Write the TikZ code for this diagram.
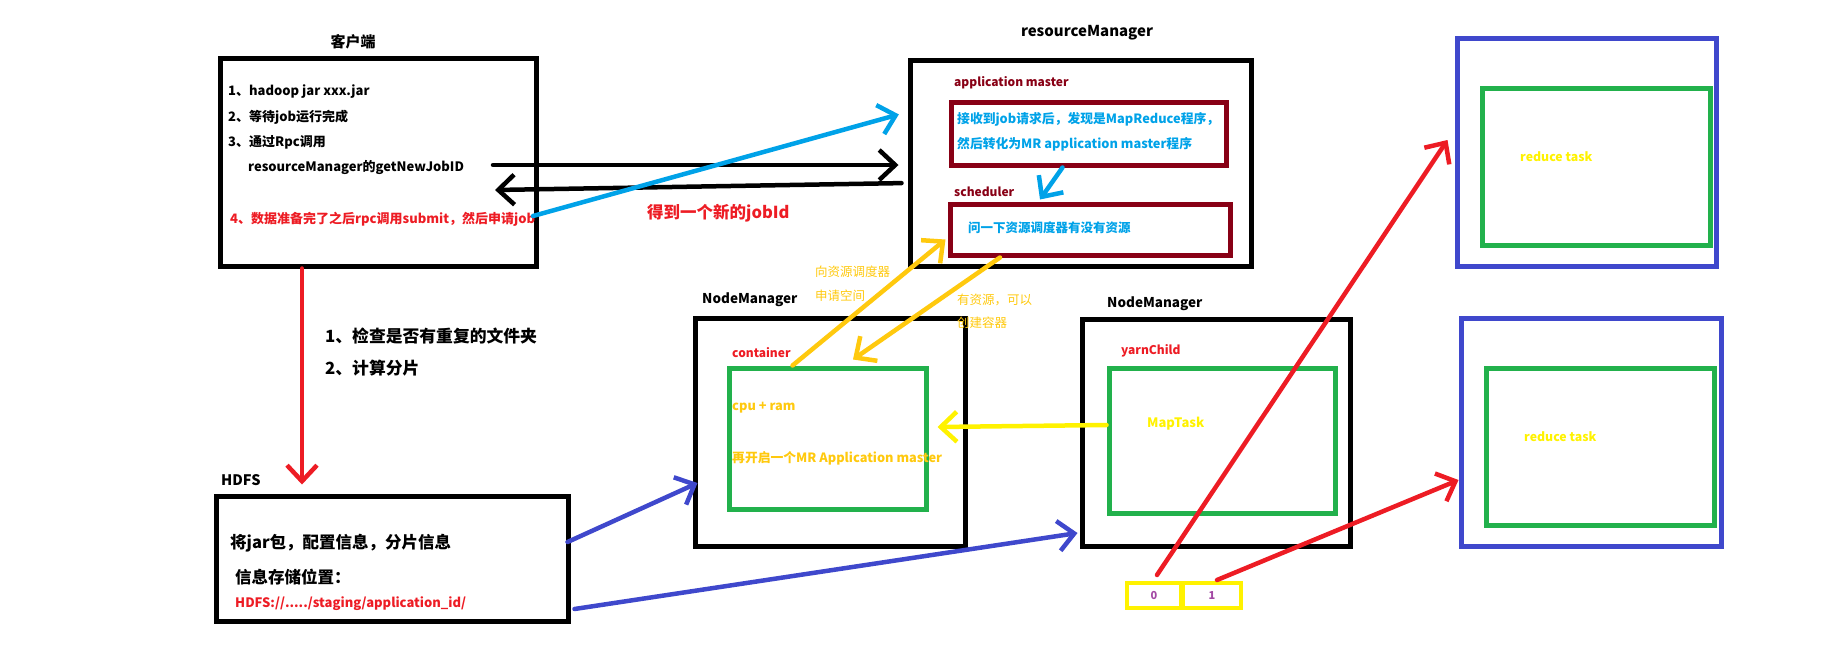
\documentclass[tikz,border=0pt]{standalone}
\usepackage{fontspec}
\setmainfont{Noto Sans CJK SC}
\usetikzlibrary{arrows.meta}
\definecolor{pred}{RGB}{237,28,36}
\definecolor{pdarkred}{RGB}{136,0,21}
\definecolor{pblue}{RGB}{0,162,232}
\definecolor{pgold}{RGB}{255,201,14}
\definecolor{pyellow}{RGB}{255,242,0}
\definecolor{pgreen}{RGB}{34,177,76}
\definecolor{pindigo}{RGB}{63,72,204}
\definecolor{ppurple}{RGB}{163,73,164}

\begin{document}
\begin{tikzpicture}[x=1pt, y=-1pt,
	frame/.style={draw=black, line width=5pt, inner sep=0pt},
	redframe/.style={draw=pdarkred, line width=5pt, inner sep=0pt},
	greenframe/.style={draw=pgreen, line width=5pt, inner sep=0pt},
	blueframe/.style={draw=pindigo, line width=5pt, inner sep=0pt},
	slotbox/.style={draw=pyellow, line width=4pt, inner sep=0pt, text=ppurple, font=\bfseries\fontsize{11}{13}\selectfont},
	txt/.style={anchor=west, inner sep=0pt, font=\bfseries\fontsize{13}{15}\selectfont},
	thin txt/.style={anchor=west, inner sep=0pt, font=\fontsize{12.5}{15}\selectfont},
	title/.style={inner sep=0pt, font=\bfseries\fontsize{15}{17}\selectfont},
	pen/.style={line width=4.5pt, line cap=round, -{Straight Barb[length=16pt, width=30pt]}}]

	\useasboundingbox (0,0) rectangle (1843,648);

	% client
	\node[title] (clienttitle) at (353,42) {客户端};
	\node[frame, minimum width=316pt, minimum height=208pt] (client) at (378,162) {};
	\node[txt] (c1) at (228,92) {1、hadoop jar xxx.jar};
	\node[txt] (c2) at (228,117) {2、等待job运行完成};
	\node[txt] (c3) at (228,142) {3、通过Rpc调用};
	\node[txt] (c3b) at (248,167) {resourceManager的getNewJobID};
	\node[txt, text=pred] (c4) at (230,219) {4、数据准备完了之后rpc调用submit，然后申请job};

	% resourceManager
	\node[title] (rmtitle) at (1087,33) {resourceManager};
	\node[frame, minimum width=341pt, minimum height=206pt] (rm) at (1080.5,163) {};
	\node[txt, text=pdarkred, font=\bfseries\fontsize{12}{14}\selectfont] (amlabel) at (954,83) {application master};
	\node[redframe, minimum width=275pt, minimum height=63pt] (am) at (1088.5,133.5) {};
	\node[txt, text=pblue, font=\bfseries\fontsize{12.8}{15}\selectfont] (am1) at (957,119) {接收到job请求后，发现是MapReduce程序，};
	\node[txt, text=pblue, font=\bfseries\fontsize{12.8}{15}\selectfont] (am2) at (957,144) {然后转化为MR application master程序};
	\node[txt, text=pdarkred, font=\bfseries\fontsize{12}{14}\selectfont] (schedlabel) at (954,192) {scheduler};
	\node[redframe, minimum width=280pt, minimum height=51pt] (sched) at (1090,229.5) {};
	\node[txt, text=pblue, font=\bfseries\fontsize{12.5}{15}\selectfont] (sched1) at (968,228) {问一下资源调度器有没有资源};

	\node[txt, text=pred, font=\bfseries\fontsize{16.5}{18}\selectfont] (newid) at (647,213) {得到一个新的jobId};

	% NodeManager 1
	\node[txt, font=\bfseries\fontsize{13.5}{16}\selectfont] (nm1title) at (702,300) {NodeManager};
	\node[frame, minimum width=270pt, minimum height=228pt] (nm1) at (830,432) {};
	\node[txt, text=pred, font=\bfseries\fontsize{12}{14}\selectfont] (contlabel) at (732,353) {container};
	\node[greenframe, minimum width=197pt, minimum height=141pt] (cont) at (827.5,438.5) {};
	\node[txt, text=pgold, font=\bfseries\fontsize{12.8}{15}\selectfont] (cpu) at (732,408) {cpu + ram};
	\node[txt, text=pgold, font=\bfseries\fontsize{12.8}{15}\selectfont] (mram) at (732,458) {再开启一个MR Application master};

	% NodeManager 2
	\node[txt, font=\bfseries\fontsize{13.5}{16}\selectfont] (nm2title) at (1107,304) {NodeManager};
	\node[frame, minimum width=268pt, minimum height=227pt] (nm2) at (1216,432.5) {};
	\node[txt, text=pred, font=\bfseries\fontsize{12}{14}\selectfont] (yclabel) at (1121,351) {yarnChild};
	\node[greenframe, minimum width=226pt, minimum height=145pt] (yc) at (1222,440.5) {};
	\node[txt, text=pyellow] (maptask) at (1147,424) {MapTask};

	% HDFS
	\node[txt, font=\bfseries\fontsize{14.5}{17}\selectfont] (hdfstitle) at (221,480) {HDFS};
	\node[frame, minimum width=352pt, minimum height=125pt] (hdfs) at (392,558.5) {};
	\node[txt, font=\bfseries\fontsize{16.5}{18}\selectfont] (h1) at (230,543) {将jar包，配置信息，分片信息};
	\node[txt, font=\bfseries\fontsize{16.5}{18}\selectfont] (h2) at (235,577) {信息存储位置：};
	\node[txt, text=pred] (h3) at (235,604) {HDFS://...../staging/application\_id/};

	\node[txt, font=\bfseries\fontsize{16.8}{19}\selectfont] (chk1) at (325,336) {1、检查是否有重复的文件夹};
	\node[txt, font=\bfseries\fontsize{16.8}{19}\selectfont] (chk2) at (325,368) {2、计算分片};

	% reduce tasks
	\node[blueframe, minimum width=259pt, minimum height=228pt] (r1) at (1586.5,152) {};
	\node[greenframe, minimum width=228pt, minimum height=157pt] (r1in) at (1596,166.5) {};
	\node[txt, text=pyellow, font=\bfseries\fontsize{12.3}{14}\selectfont] (r1txt) at (1520,157) {reduce task};
	\node[blueframe, minimum width=260pt, minimum height=228pt] (r2) at (1591,432) {};
	\node[greenframe, minimum width=228pt, minimum height=157pt] (r2in) at (1600,446.5) {};
	\node[txt, text=pyellow, font=\bfseries\fontsize{12.3}{14}\selectfont] (r2txt) at (1524,437) {reduce task};

	\node[slotbox, minimum width=54pt, minimum height=25pt] (slot0) at (1154,595.5) {0};
	\node[slotbox, minimum width=58pt, minimum height=25pt] (slot1) at (1212,595.5) {1};

	% yellow labels
	\node[thin txt, text=pgold] (ask1) at (815,272) {向资源调度器};
	\node[thin txt, text=pgold] (ask2) at (815,296) {申请空间};
	\node[thin txt, text=pgold] (ok1) at (957,300) {有资源，可以};
	\node[thin txt, text=pgold] (ok2) at (957,323) {创建容器};

	% connectors
	\coordinate (getid) at (493,165);
	\coordinate (jobid) at (495,190);
	\coordinate (submit) at (533,216);
	\draw[pen, shorten >=9pt] (getid) -- (getid -| rm.west);
	\draw[pen, shorten <=6pt] ([yshift=-20pt]rm.west) -- (jobid);
	\draw[pen, pblue, shorten >=9pt] (submit) -- ([yshift=51pt]rm.west);
	\draw[pen, pblue] ([xshift=-26pt]am.south) -- ([xshift=-50pt,yshift=2pt]sched.north);
	\draw[pen, pgold] ([xshift=-35pt]cont.north) -- ([xshift=-2pt,yshift=-10pt]sched.west);
	\draw[pen, pgold] ([xshift=-90pt]sched.south) -- ([xshift=25.5pt,yshift=6pt]cont.north);
	\draw[pen, pyellow] ([yshift=15.5pt]yc.west) -- ([xshift=9pt,yshift=11.5pt]cont.east);
	\draw[pen, pred, shorten >=9pt] ([xshift=-76pt]client.south) -- ([xshift=-90pt]hdfs.north);
	\draw[pen, pindigo] ([xshift=-3pt,yshift=16.5pt]hdfs.east) -- ([xshift=5pt,yshift=-51pt]nm1.west);
	\draw[pen, pindigo] ([xshift=4pt,yshift=-50.5pt]hdfs.east) -- ([xshift=-2pt,yshift=-100.5pt]nm2.west);
	\draw[pen, pred] ([xshift=3pt,yshift=6pt]slot0.north) -- ([xshift=-7pt,yshift=12pt]r1.west);
	\draw[pen, pred] ([xshift=5pt,yshift=1pt]slot1.north) -- ([yshift=-48pt]r2.west);

\end{tikzpicture}
\end{document}
